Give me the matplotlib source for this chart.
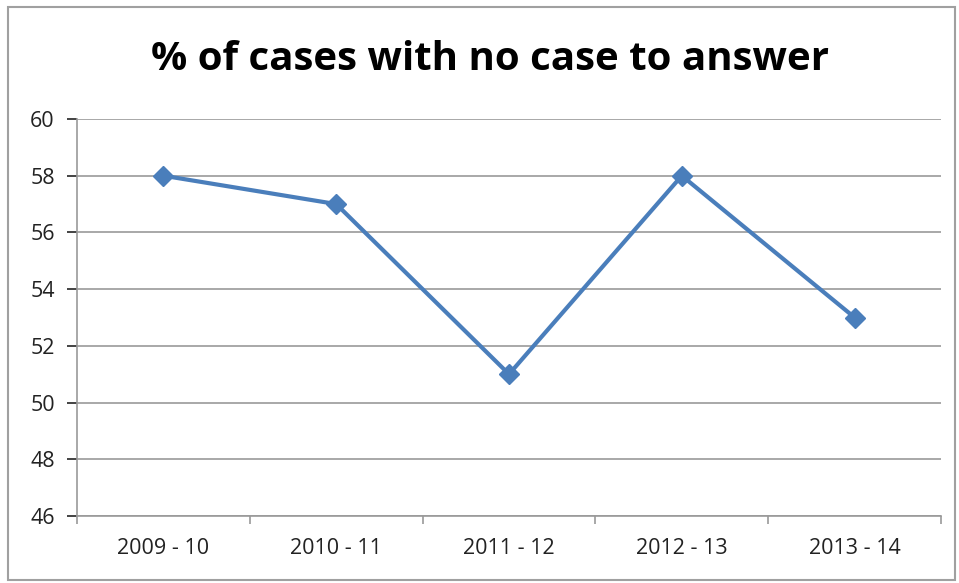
import matplotlib.pyplot as plt
from matplotlib.patches import Rectangle

# data
years = ["2009 - 10", "2010 - 11", "2011 - 12", "2012 - 13", "2013 - 14"]
pct_no_case = [58, 57, 51, 58, 53]
y_ticks = [46, 48, 50, 52, 54, 56, 58, 60]

plt.rcParams['font.family'] = ['Open Sans', 'DejaVu Sans']

fig = plt.figure(figsize=(9.59, 5.83), dpi=100)
ax = fig.add_axes([77 / 959, 1 - 516 / 583, (941 - 77) / 959, (516 - 119) / 583])

x = list(range(len(years)))
ax.plot(x, pct_no_case, color='#4A7EBB', linewidth=3, marker='D', markersize=10,
        markerfacecolor='#4A7EBB', markeredgecolor='#4A7EBB')

# axes styling, excel-like
ax.set_xlim(-0.5, len(years) - 0.5)
ax.set_ylim(46, 60)
ax.set_yticks(y_ticks)
ax.set_xticks(x)
ax.set_xticklabels(years)
ax.set_xticks([i - 0.5 for i in range(len(years) + 1)], minor=True)
ax.tick_params(axis='x', which='major', length=0, pad=16, labelsize=15.5, colors='#222222')
ax.tick_params(axis='x', which='minor', length=6, color='#999999', width=1.2)
ax.tick_params(axis='y', length=7, color='#999999', width=1.2, labelsize=15.5, pad=9)
ax.tick_params(axis='y', colors='#222222')
ax.grid(axis='y', color='#999999', linewidth=1.2)
ax.set_axisbelow(True)
for s in ['top', 'right']:
    ax.spines[s].set_visible(False)
for s in ['left', 'bottom']:
    ax.spines[s].set_color('#999999')
    ax.spines[s].set_linewidth(1.2)

fig.text(490 / 959, 1 - 60 / 583, "% of cases with no case to answer", ha='center', va='center',
         fontsize=29, fontweight='bold', color='black')

# outer chart border
fig.patches.append(Rectangle((8 / 959, 3 / 583), 947 / 959, 573 / 583, transform=fig.transFigure,
                             fill=False, edgecolor='#A0A0A0', linewidth=1.5))

plt.savefig('out.png', dpi=100)
